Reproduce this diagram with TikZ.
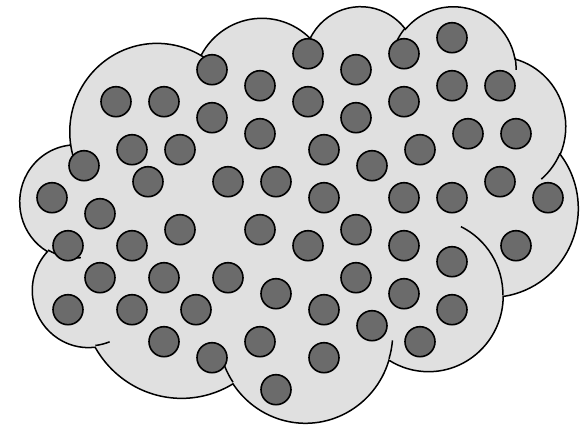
\documentclass[tikz,border=0pt]{standalone}
\definecolor{cloudfill}{RGB}{224,224,224}
\definecolor{dotfill}{RGB}{107,107,107}
\begin{document}
\begin{tikzpicture}[x=1pt,y=-1pt,
  cloudline/.style={draw=black, line width=1.5pt},
  dot/.style={circle, draw=black, fill=dotfill, line width=1.6pt, minimum size=30pt, inner sep=0pt}]
\useasboundingbox (0,0) rectangle (587,425);
\begin{scope}[shift={(20.19,5.37)}, x=12.914pt, y=-9.640pt]
\path[cloudline, fill=cloudfill] (3.9,14.37)
  arc[start angle=172.255, end angle=300.35, x radius=6.753, y radius=9.19]
  arc[start angle=-152.04, end angle=-45.46, x radius=5.333, y radius=7.267]
  arc[start angle=-153.49, end angle=-37.32, x radius=4.365, y radius=5.945]
  arc[start angle=-139.72, end angle=-10.21, x radius=4.857, y radius=6.595]
  arc[start angle=-74.77, end angle=23.21, x radius=5.333, y radius=7.273]
  arc[start angle=-37.51, end angle=81.86, x radius=6.775, y radius=9.22]
  arc[start angle=0.4597, end angle=121.98, x radius=5.785, y radius=7.867]
  arc[start angle=16.84, end angle=146.23, x radius=6.752, y radius=9.215]
  arc[start angle=58.98, end angle=150.19, x radius=7.72, y radius=10.543]
  arc[start angle=83.31, end angle=223.11, x radius=4.36, y radius=5.918]
  arc[start angle=120.35, end angle=264.11, x radius=4.345, y radius=5.945]
  -- cycle;
\draw[cloudline]
  (4.693,26.177) arc[start angle=85.546, end angle=120.35, x radius=4.345, y radius=5.945]
  (6.928,34.899) arc[start angle=68.24, end angle=83.31, x radius=4.36, y radius=5.918]
  (16.478,39.09) arc[start angle=146.23, end angle=158.47, x radius=6.752, y radius=9.215]
  (28.827,34.751) arc[start angle=4.738, end angle=16.84, x radius=6.752, y radius=9.215]
  (34.129,22.954) arc[start angle=-64.03, end angle=0.46, x radius=5.785, y radius=7.867]
  (41.798,15.354) arc[start angle=23.21, end angle=49.63, x radius=5.333, y radius=7.273]
  (38.324,5.426) arc[start angle=-10.21, end angle=0.82, x radius=4.857, y radius=6.595]
  (29.078,3.952) arc[start angle=-156.29, end angle=-139.72, x radius=4.857, y radius=6.595]
  (22.141,4.72) arc[start angle=-167.73, end angle=-153.49, x radius=4.365, y radius=5.945]
  (14,5.192) arc[start angle=-59.65, end angle=-45.74, x radius=6.753, y radius=9.19]
  (4.127,15.789) arc[start angle=163.19, end angle=172.255, x radius=6.753, y radius=9.19];
\end{scope}
\foreach \p [count=\i] in {
  (452,37.7),
  (308,53.7),(404,53.7),
  (212,69.7),(356,69.7),
  (260,85.7),(452,85.7),(500,85.7),
  (116,101.7),(164,101.7),(308,101.7),(404,101.7),
  (212,117.7),(356,117.7),
  (260,133.7),(468,133.7),(516,133.7),
  (132,149.7),(180,149.7),(324,149.7),(420,149.7),
  (84,165.7),(372,165.7),
  (148,181.7),(228,181.7),(276,181.7),(500,181.7),
  (52,197.7),(324,197.7),(404,197.7),(452,197.7),(548,197.7),
  (100,213.7),
  (180,229.7),(260,229.7),(356,229.7),
  (68,245.7),(132,245.7),(308,245.7),(404,245.7),(516,245.7),
  (452,261.7),
  (100,277.7),(164,277.7),(228,277.7),(356,277.7),
  (276,293.7),(404,293.7),
  (68,309.7),(132,309.7),(196,309.7),(324,309.7),(452,309.7),
  (372,325.7),
  (164,341.7),(260,341.7),(420,341.7),
  (212,357.7),(324,357.7),
  (276,389.7)}
  \node[dot] (d\i) at \p {};
\end{tikzpicture}
\end{document}
